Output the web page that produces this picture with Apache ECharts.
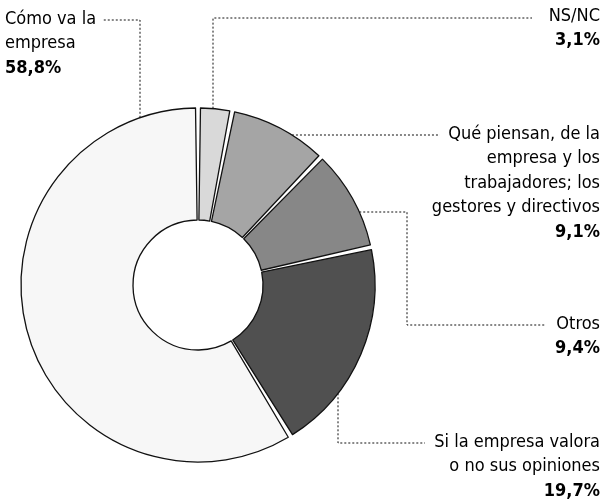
<!DOCTYPE html>
<html>
<head>
<meta charset="utf-8">
<script src="https://cdn.jsdelivr.net/npm/echarts@6/dist/echarts.min.js"></script>
<style>
  html, body { margin: 0; padding: 0; background: #fff; }
  #chart { width: 605px; height: 500px; }
</style>
</head>
<body>
<div id="chart"></div>
<script>
// data, clockwise from 12 o'clock
const categories = [
  'NS/NC',
  'Qué piensan, de la\nempresa y los\ntrabajadores; los\ngestores y directivos',
  'Otros',
  'Si la empresa valora\no no sus opiniones',
  'Cómo va la\nempresa'
];
const values = [3.1, 9.1, 9.4, 19.7, 58.8];

const fills = ['#d9d9d9', '#a5a5a5', '#878787', '#505050', '#f7f7f7'];

// pie geometry (px)
const CX = 198, CY = 285, R_IN = 65, R_OUT = 177;

const edgeXRight = y => CX + Math.sqrt(R_OUT * R_OUT - (y - CY) * (y - CY));
const edgeYTop = x => CY - Math.sqrt(R_OUT * R_OUT - (x - CX) * (x - CX));
const edgeYBottom = x => CY + Math.sqrt(R_OUT * R_OUT - (x - CX) * (x - CX));

// where each label sits and how its leader runs
const labelSpots = [
  { x: 600, y: 4, align: 'right', line: () => [[213, edgeYTop(213)], [213, 18], [532, 18]] },
  { x: 600, y: 122, align: 'right', line: () => [[edgeXRight(135), 135], [440, 135]] },
  { x: 600, y: 312, align: 'right', line: () => [[edgeXRight(212), 212], [407, 212], [407, 325], [545, 325]] },
  { x: 600, y: 430, align: 'right', line: () => [[338, edgeYBottom(338)], [338, 443], [425, 443]] },
  { x: 5, y: 7, align: 'left', line: () => [[140, edgeYTop(140)], [140, 20], [102, 20]] }
];

const fmtPct = v => v.toFixed(1).replace('.', ',') + '%';
const FONT = "'Liberation Sans Narrow', 'DejaVu Sans Condensed', sans-serif";

const chart = echarts.init(document.getElementById('chart'));

chart.setOption({
  animation: false,
  backgroundColor: '#fff',
  series: [{
    type: 'pie',
    center: [CX, CY],
    radius: [R_IN, R_OUT],
    startAngle: 90,
    clockwise: true,
    padAngle: 1.6,
    silent: true,
    emphasis: { disabled: true },
    itemStyle: { borderColor: '#111', borderWidth: 1.3 },
    data: categories.map((name, i) => ({
      name,
      value: values[i],
      itemStyle: { color: fills[i] }
    })),
    label: {
      show: true,
      position: 'outside',
      width: 200,
      overflow: 'none',
      fontFamily: FONT,
      formatter: p => '{n|' + p.name + '}\n{p|' + fmtPct(p.value) + '}',
      rich: {
        n: { fontSize: 18, lineHeight: 24.5, color: '#000', fontFamily: FONT },
        p: { fontSize: 18, lineHeight: 24.5, color: '#000', fontWeight: 'bold', fontFamily: FONT }
      }
    },
    labelLine: {
      show: true,
      lineStyle: { color: '#111', width: 1, type: [2, 2] }
    },
    labelLayout: params => {
      const s = labelSpots[params.dataIndex];
      return {
        x: s.x,
        y: s.y,
        align: s.align,
        verticalAlign: 'top',
        width: 200,
        labelLinePoints: s.line()
      };
    }
  }]
});
</script>
</body>
</html>
